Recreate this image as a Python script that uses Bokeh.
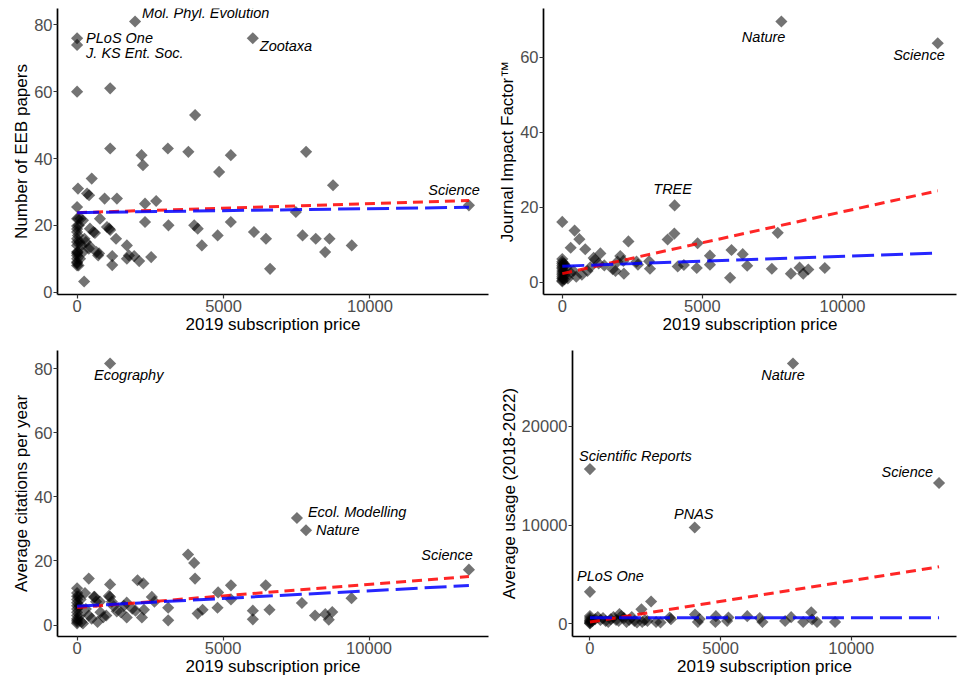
import numpy as np
from bokeh.plotting import figure
from bokeh.layouts import column, row
from bokeh.models import Range1d, FixedTicker, BasicTickFormatter
from bokeh.core.properties import value
from bokeh.embed import file_html
from bokeh.resources import INLINE

# ---------------- DATA ----------------
# Panel 1: Number of EEB papers vs 2019 subscription price
p1_lab_names = ["PLoS One", "J. KS Ent. Soc.", "Mol. Phyl. Evolution", "Zootaxa", "Science"]
p1_lab_price = [0, 0, 1980, 6000, 13380]
p1_lab_val = [76, 74, 81, 76, 26]
p1_price = [0, 1130, 1130, 4030, 3100, 3800, 2200, 2250, 5250, 4850, 7820, 8740,
            30, 500, 340, 410, 940, 1360, 2320, 2700, 0, 7470,
            0, 120, 200, 780, 2320, 3120, 4000, 4120, 5250, 6040, 6450, 4800, 7700, 8150, 8620, 8470, 9380, 6590, 4260,
            1330, 1700, 1020, 1130, 1100, 440, 610, 560, 1700, 1770, 1950, 2120, 2530, 1200, 1200, 720, 660, 440, 750, 240, 400, 300,
            0, 0, 0, 0, 0, 0, 0, 0, 0, 0, 0, 0, 0, 50, 20, 30, 60, 80, 100, 150, 200, 250, 40]
p1_val = [60, 61, 43, 53, 43, 42, 41, 38, 41, 36, 42, 32,
          31, 34, 29.5, 29, 28, 28, 26.5, 27.3, 25.5, 24,
          22, 22, 21.5, 22, 21, 20, 20, 19, 21, 18, 16, 17, 17, 16, 16, 12, 14, 7, 14,
          16, 14, 19.5, 18.6, 19, 19, 17.7, 18, 10, 11, 10.8, 9.3, 10.5, 10.8, 8.1, 11, 12, 13.7, 11.6, 3.2, 13, 15,
          19.8, 18.9, 18, 16, 15, 14, 12, 11.6, 11, 10, 9, 8.7, 8, 8, 12, 17, 20, 15, 10, 14, 12, 16, 22]
p1_red = (23.8, 0.00027)   # intercept, slope
p1_blue = (23.8, 0.00012)

# Panel 2: Journal Impact Factor
p2_lab_names = ["Nature", "Science", "TREE"]
p2_lab_price = [7820, 13400, 4010]
p2_lab_val = [69.6, 63.8, 20.5]
p2_price = [0, 440, 610, 300, 820, 1360, 2360, 1120, 1170, 3760, 4000, 4830, 5270, 5270, 4800, 6040, 6440, 6600, 5990,
            7690, 7480, 8160, 8470, 8600, 8780, 9370, 4120, 4340, 3100, 3130, 2650, 2070, 2180, 1970, 2200, 2700,
            1800, 1900, 1500, 1300, 1000, 900, 700, 500, 400, 300, 200, 150, 100,
            0, 0, 0, 0, 0, 0, 0, 0, 0, 0, 0, 0, 0, 30, 50, 60, 80, 100]
p2_val = [16.1, 13.8, 11.5, 9.2, 8.8, 7.7, 10.9, 6.5, 6, 11.4, 13, 10.4, 7.1, 4.7, 3.8, 8.6, 7.5, 4.4, 1.2,
          13.2, 3.6, 2.3, 3.9, 2.3, 3.4, 3.8, 4.2, 4.6, 5.6, 3.6, 5.5, 7, 5.7, 5.5, 2.3, 4.7,
          3.5, 3, 4.5, 5, 4, 3, 2, 1.5, 3, 2.5, 1, 4, 2,
          6.2, 5.5, 5, 4.5, 4, 3.6, 3, 2.5, 2, 1.5, 1, 0.5, 0.2, 1, 3, 5, 0.8, 4.5]
p2_red = (2.3, 0.00165)
p2_blue = (4.3, 0.00026)

# Panel 3: Average citations per year
p3_lab_names = ["Ecography", "Ecol. Modelling", "Nature", "Science"]
p3_lab_price = [1130, 7530, 7840, 13420]
p3_lab_val = [81.6, 33.4, 29.6, 17.3]
p3_price = [3800, 4010, 4040, 400, 1130, 2070, 2270, 5270, 6460, 4830, 5270, 9400, 3120, 3120, 4300, 4130, 4810,
            6020, 6020, 6590, 7700, 8150, 8500, 8620, 8740, 2560, 2650, 2220, 1700, 1700, 1890, 2000, 2290,
            600, 780, 1130, 1090, 1190, 1250, 1360, 270, 580, 650, 800, 900, 700, 500, 400, 300, 1000, 1500, 1600,
            0, 0, 0, 0, 0, 0, 0, 0, 0, 0, 0, 0, 0, 50, 80, 100, 150, 200, 120]
p3_val = [22, 19.4, 14.5, 14.5, 12.7, 14, 13, 12.4, 12.4, 10.2, 8, 8.4, 5.4, 1.5, 4.8, 3.6, 5.4,
          4.5, 1.8, 4.8, 6.9, 3, 3.4, 1.7, 4.1, 8.8, 7.3, 2.4, 2.4, 7, 5.1, 4.5, 4.8,
          8.8, 7.3, 8.8, 9.1, 7.3, 5.9, 4.3, 10, 8.8, 7.3, 4, 2.5, 1, 2, 3, 5, 3, 4, 6,
          11.5, 10, 9, 8, 7, 6, 5, 4, 3, 2, 1.5, 1, 0.5, 9, 6, 3, 1, 0.5, 8]
p3_red = (5.5, 0.00072)
p3_blue = (5.9, 0.00048)

# Panel 4: Average usage (2018-2022)
p4_lab_names = ["Nature", "Scientific Reports", "Science", "PNAS", "PLoS One"]
p4_lab_price = [7770, 0, 13360, 4010, 0]
p4_lab_val = [26330, 15660, 14250, 9750, 3250]
p4_price = [1970, 2340, 8470, 7700, 6020, 4820, 4020, 3100, 5250, 4130, 6600, 4800, 7470, 8160, 8690, 9380, 2530,
            0, 0, 0, 0, 0, 0, 0, 100, 200, 300, 400, 500, 600, 700, 800, 900, 1000, 1130, 1200, 1300, 1100,
            1400, 1500, 1600, 1700, 1800, 2000, 2100, 2200, 2700, 3050, 5300, 8500, 6500, 4200]
p4_val = [1480, 2270, 1180, 690, 790, 790, 950, 490, 300, 200, 200, 200, 300, 200, 200, 200, 200,
          800, 600, 400, 300, 200, 100, 50, 300, 500, 700, 400, 600, 300, 200, 500, 700, 400, 1000, 800, 600, 300,
          200, 400, 700, 300, 150, 200, 400, 300, 150, 650, 650, 450, 600, 500]
p4_red = (200, 0.418)
p4_blue = (620, 0.0)

xticks = [0, 5000, 10000]
FONT = "Liberation Sans"


def make_panel(price, val, lab_names, lab_price, lab_val, lab_style, red, blue,
               yticks, ylabel, w, h, bl, br, bt, bb):
    xs = list(price) + list(lab_price)
    ys = list(val) + list(lab_val)
    xmin, xmax = min(xs), max(xs)
    ymin, ymax = min(ys), max(ys)
    dx = 0.05 * (xmax - xmin)
    dy = 0.05 * (ymax - ymin)
    p = figure(width=w, height=h, output_backend="svg", toolbar_location=None,
               x_range=Range1d(xmin - dx, xmax + dx), y_range=Range1d(ymin - dy, ymax + dy),
               min_border_left=bl, min_border_right=br, min_border_top=bt, min_border_bottom=bb)
    p.outline_line_color = None
    p.xgrid.visible = False
    p.ygrid.visible = False
    p.background_fill_color = "white"
    p.border_fill_color = "white"

    p.scatter(xs, ys, marker="square", size=8.6, angle=np.pi / 4,
              fill_color="black", fill_alpha=0.55, line_color=None)

    lx = np.array([xmin, xmax], dtype=float)
    p.line(lx, red[0] + red[1] * lx, line_color="#ff0000", line_alpha=0.85,
           line_width=3, line_dash="10 6")
    p.line(lx, blue[0] + blue[1] * lx, line_color="#0000ff", line_alpha=0.85,
           line_width=3, line_dash="22 7")

    for name, x, y, (align, ox, oy) in zip(lab_names, lab_price, lab_val, lab_style):
        p.text([x], [y], text=[name], x_offset=ox, y_offset=oy, text_align=align,
               text_baseline="middle", text_font=value(FONT), text_font_style="italic",
               text_font_size="14.5px", text_color="black")

    for ax in (p.xaxis[0], p.yaxis[0]):
        ax.axis_line_color = "black"
        ax.axis_line_width = 1.7
        ax.major_tick_line_color = "#333333"
        ax.major_tick_line_width = 1.2
        ax.major_tick_in = 0
        ax.major_tick_out = 4
        ax.minor_tick_line_color = None
        ax.major_label_text_font = FONT
        ax.major_label_text_font_size = "16.5px"
        ax.major_label_text_color = "#4d4d4d"
        ax.axis_label_text_font = FONT
        ax.axis_label_text_font_size = "17px"
        ax.axis_label_text_font_style = "normal"
        ax.axis_label_text_color = "black"
        ax.major_label_standoff = 1
        ax.axis_label_standoff = 0
        ax.formatter = BasicTickFormatter(use_scientific=False)
    p.xaxis[0].ticker = FixedTicker(ticks=xticks)
    p.yaxis[0].ticker = FixedTicker(ticks=yticks)
    p.xaxis[0].axis_label = "2019 subscription price"
    p.yaxis[0].axis_label = ylabel
    return p


W1, W2 = 490, 468
H1, H2 = 336, 342

p1 = make_panel(p1_price, p1_val, p1_lab_names, p1_lab_price, p1_lab_val,
                [("left", 9, 0), ("left", 9, 8), ("left", 7, -9), ("left", 7, 8), ("right", 11, -15)],
                p1_red, p1_blue, [0, 20, 40, 60, 80], "Number of EEB papers",
                W1, H1, 57, 2, 8, 34)
p2 = make_panel(p2_price, p2_val, p2_lab_names, p2_lab_price, p2_lab_val,
                [("right", 4, 15), ("right", 7, 12), ("center", -2, -16)],
                p2_red, p2_blue, [0, 20, 40, 60], "Journal Impact Factor™",
                W2, H1, 53, 2, 8, 34)
p3 = make_panel(p3_price, p3_val, p3_lab_names, p3_lab_price, p3_lab_val,
                [("left", -16, 11), ("left", 11, -6), ("left", 10, 0), ("right", 4, -15)],
                p3_red, p3_blue, [0, 20, 40, 60, 80], "Average citations per year",
                W1, H2, 57, 2, 14, 34)
p4 = make_panel(p4_price, p4_val, p4_lab_names, p4_lab_price, p4_lab_val,
                [("center", -10, 11), ("left", -11, -13), ("right", -6, -11), ("center", -1, -14), ("left", -13, -16)],
                p4_red, p4_blue, [0, 10000, 20000], "Average usage (2018-2022)",
                W2, H2, 82, 2, 14, 34)

layout = column(row(p1, p2), row(p3, p4))
open("out.html", "w").write(file_html(layout, INLINE))
